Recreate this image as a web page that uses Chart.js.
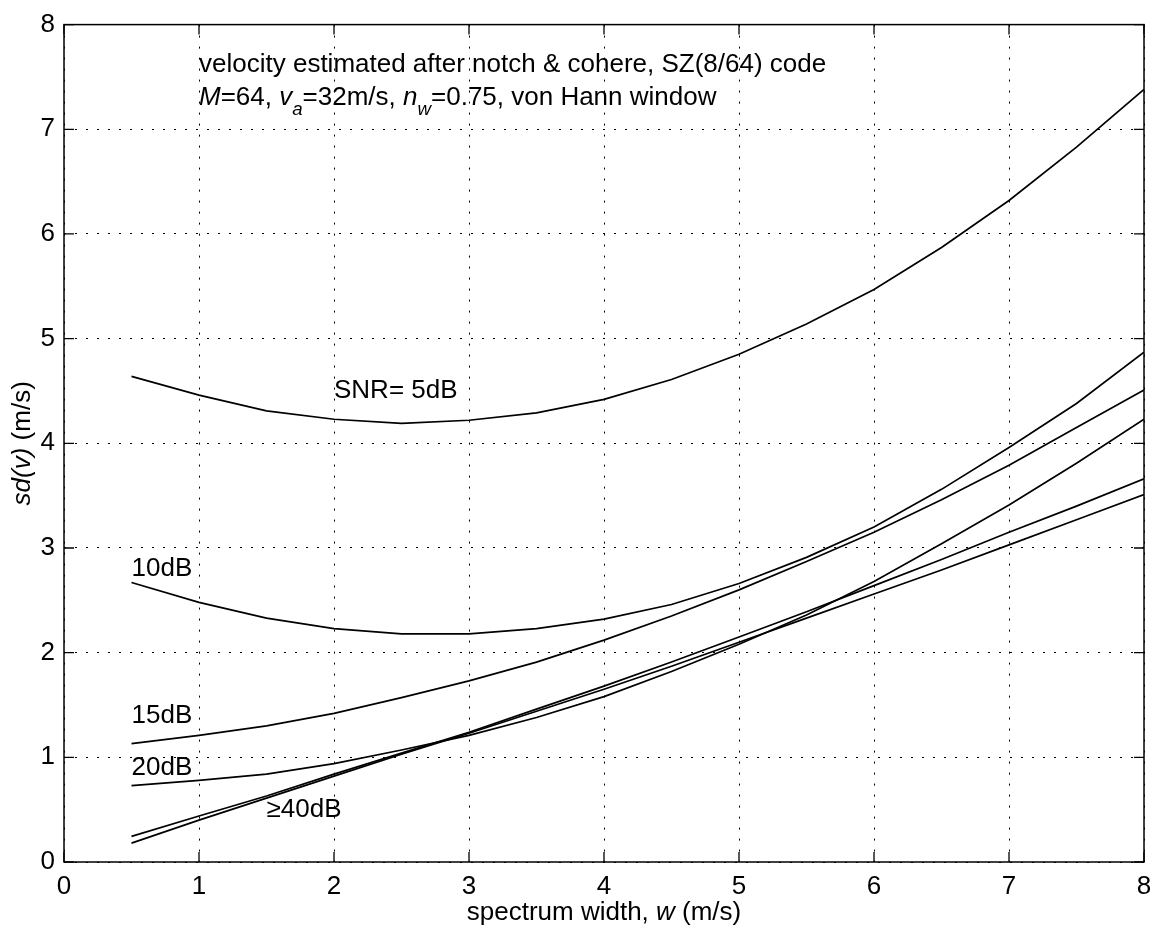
<!DOCTYPE html>
<html>
<head>
<meta charset="utf-8">
<script src="https://cdn.jsdelivr.net/npm/chart.js@4.4.1/dist/chart.umd.min.js"></script>
<style>
html,body{margin:0;padding:0;background:#fff;}
#wrap{width:1161px;height:933px;}
</style>
</head>
<body>
<div id="wrap"><canvas id="c" width="1161" height="933"></canvas></div>
<script>
// ---- data ----
const widths = [0.5,1,1.5,2,2.5,3,3.5,4,4.5,5,5.5,6,6.5,7,7.5,8];
const snr5   = [4.64,4.46,4.31,4.23,4.19,4.22,4.29,4.42,4.61,4.85,5.14,5.47,5.87,6.32,6.83,7.38];
const snr10  = [2.67,2.48,2.33,2.23,2.18,2.18,2.23,2.32,2.46,2.66,2.91,3.20,3.56,3.96,4.38,4.87];
const snr15  = [1.13,1.21,1.30,1.42,1.57,1.73,1.91,2.12,2.35,2.60,2.87,3.15,3.46,3.79,4.15,4.51];
const snr20  = [0.73,0.78,0.84,0.94,1.07,1.21,1.38,1.58,1.82,2.08,2.36,2.68,3.04,3.41,3.81,4.23];
const snr40a = [0.245,0.44,0.63,0.84,1.04,1.24,1.46,1.68,1.91,2.15,2.39,2.64,2.89,3.15,3.40,3.66];
const snr40b = [0.18,0.40,0.61,0.82,1.03,1.23,1.44,1.65,1.87,2.10,2.33,2.56,2.79,3.03,3.27,3.51];
const xTicks = [0,1,2,3,4,5,6,7,8];
const yTicks = [0,1,2,3,4,5,6,7,8];
const curveLabels = [
  {text:'SNR= 5dB', x:2.0, y:4.5},
  {text:'10dB', x:0.5, y:2.8},
  {text:'15dB', x:0.5, y:1.4},
  {text:'20dB', x:0.5, y:0.9},
  {text:'\u226540dB', x:1.5, y:0.5}
];
const noteX = 1.0, noteY = 7.5;

const FAM = '"Liberation Sans", Arial, Helvetica, sans-serif';
const FS = 26;

function toXY(ys){ return widths.map((w,i)=>({x:w, y:ys[i]})); }
function ds(label, ys){
  return {label, data:toXY(ys), borderColor:'#000', borderWidth:1.7, pointRadius:0, tension:0, fill:false};
}

function segWidth(ctx, segs, size){
  let w=0;
  for(const s of segs){
    const sz = s.sub ? size*0.72 : size;
    ctx.font = (s.i?'italic ':'') + sz + 'px ' + FAM;
    w += ctx.measureText(s.t).width;
  }
  return w;
}
function drawRich(ctx, x, y, segs, size){
  let cx = x;
  for(const s of segs){
    const sz = s.sub ? size*0.72 : size;
    ctx.font = (s.i?'italic ':'') + sz + 'px ' + FAM;
    ctx.fillText(s.t, cx, y + (s.sub ? size*0.4 : 0));
    cx += ctx.measureText(s.t).width;
  }
}

const decor = {
  id:'decor',
  beforeDraw(chart){
    const ctx = chart.ctx;
    ctx.save();
    ctx.fillStyle='#fff';
    ctx.fillRect(0,0,chart.width,chart.height);
    ctx.restore();
  },
  afterDraw(chart){
    const ctx = chart.ctx, a = chart.chartArea;
    const xs = chart.scales.x, ys = chart.scales.y;
    ctx.save();
    // frame
    ctx.strokeStyle='#000';
    ctx.lineWidth=1.5;
    ctx.strokeRect(a.left, a.top, a.right-a.left, a.bottom-a.top);
    // inward ticks
    ctx.lineWidth=1.3;
    const TL = 10;
    ctx.beginPath();
    for(const v of xTicks){
      const px = xs.getPixelForValue(v);
      ctx.moveTo(px, a.bottom); ctx.lineTo(px, a.bottom-TL);
      ctx.moveTo(px, a.top); ctx.lineTo(px, a.top+TL);
    }
    for(const v of yTicks){
      const py = ys.getPixelForValue(v);
      ctx.moveTo(a.left, py); ctx.lineTo(a.left+TL, py);
      ctx.moveTo(a.right, py); ctx.lineTo(a.right-TL, py);
    }
    ctx.stroke();

    ctx.fillStyle='#000';
    ctx.textBaseline='middle';
    ctx.textAlign='left';
    // curve labels
    ctx.font = FS + 'px ' + FAM;
    for(const l of curveLabels){
      ctx.fillText(l.text, xs.getPixelForValue(l.x), ys.getPixelForValue(l.y));
    }
    // note (two lines)
    const nx = xs.getPixelForValue(noteX), ny = ys.getPixelForValue(noteY);
    ctx.textBaseline='alphabetic';
    drawRich(ctx, nx, ny-5, [{t:'velocity estimated after notch & cohere, SZ(8/64) code'}], FS);
    drawRich(ctx, nx, ny+28, [
      {t:'M', i:true},{t:'=64, '},{t:'v', i:true},{t:'a', i:true, sub:true},
      {t:'=32m/s, '},{t:'n', i:true},{t:'w', i:true, sub:true},{t:'=0.75, von Hann window'}
    ], FS);

    // x title
    ctx.textBaseline='middle';
    const xt = [{t:'spectrum width, '},{t:'w', i:true},{t:' (m/s)'}];
    const xw = segWidth(ctx, xt, FS);
    drawRich(ctx, (a.left+a.right)/2 - xw/2, 913, xt, FS);
    // y title
    const yt = [{t:'sd(v)', i:true},{t:' (m/s)'}];
    const yw = segWidth(ctx, yt, FS);
    ctx.translate(23, (a.top+a.bottom)/2);
    ctx.rotate(-Math.PI/2);
    drawRich(ctx, -yw/2, 0, yt, FS);
    ctx.restore();
  }
};

new Chart(document.getElementById('c'), {
  type:'line',
  data:{datasets:[
    ds('SNR=5dB', snr5), ds('10dB', snr10), ds('15dB', snr15),
    ds('20dB', snr20), ds('40dB', snr40a), ds('inf', snr40b)
  ]},
  options:{
    responsive:false,
    devicePixelRatio:1,
    animation:false,
    layout:{padding:{top:17,right:17,left:0,bottom:0}},
    plugins:{legend:{display:false}, tooltip:{enabled:false}, title:{display:false}},
    scales:{
      x:{
        type:'linear', min:0, max:8,
        afterFit(s){ s.height = 71; },
        afterBuildTicks(s){ s.ticks = xTicks.map(v=>({value:v})); },
        ticks:{font:{family:FAM, size:FS}, color:'#000', padding:9, maxRotation:0},
        grid:{color:'#000', lineWidth:1, drawTicks:false},
        border:{display:false, dash:[2,9]}
      },
      y:{
        type:'linear', min:0, max:8,
        afterFit(s){ s.width = 64; },
        afterBuildTicks(s){ s.ticks = yTicks.map(v=>({value:v})); },
        ticks:{font:{family:FAM, size:FS}, color:'#000', padding:9},
        grid:{color:'#000', lineWidth:1, drawTicks:false},
        border:{display:false, dash:[2,9]}
      }
    }
  },
  plugins:[decor]
});
</script>
</body>
</html>
